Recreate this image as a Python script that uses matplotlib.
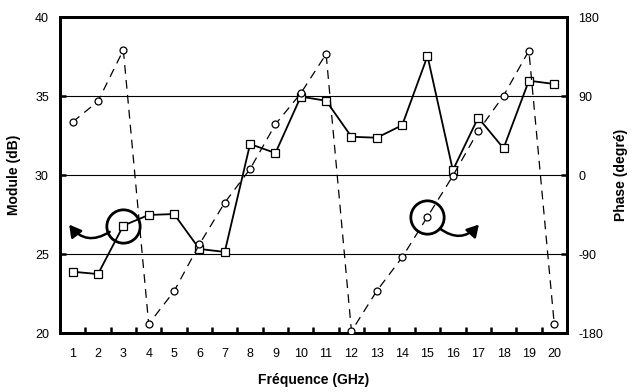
import matplotlib.pyplot as plt
from matplotlib.patches import FancyArrowPatch

plt.rcParams['font.family'] = ['Liberation Sans', 'DejaVu Sans']
plt.rcParams['axes.unicode_minus'] = False

freq = list(range(1, 21))
module_db = [23.88, 23.73, 26.8, 27.47, 27.53, 25.32, 25.13, 31.96, 31.39, 34.96,
             34.7, 32.42, 32.36, 33.15, 37.53, 30.3, 33.63, 31.69, 35.97, 35.76]
phase_deg = [60.4, 84.0, 142.4, -169.7, -132.5, -79.0, -31.5, 6.8, 57.8, 93.0,
             137.8, -178.0, -132.0, -93.8, -47.5, -1.0, 50.0, 90.3, 141.6, -169.7]

fig = plt.figure(figsize=(6.32, 3.92), dpi=100)
ax = fig.add_axes([0.0949, 0.1505, 0.8021, 0.8061])
ax2 = ax.twinx()

for y in (25, 30, 35):
    ax.axhline(y, color='black', lw=0.8, zorder=0)

ax.plot(freq, module_db, color='black', lw=1.3, marker='s', ms=6,
        mfc='white', mec='black', mew=0.9, zorder=3)
ax2.plot(freq, phase_deg, color='black', lw=0.9, ls=(0, (7, 5)), marker='o', ms=5,
         mfc='white', mec='black', mew=0.9, zorder=3)

ax.set_xlim(0.5, 20.5)
ax.set_ylim(20, 40)
ax2.set_ylim(-180, 180)
ax.set_yticks([20, 25, 30, 35, 40])
ax2.set_yticks([-180, -90, 0, 90, 180])

ax.set_xticks(freq)
ax.set_xticks([f + 0.5 for f in freq[:-1]], minor=True)
ax.tick_params(axis='x', which='major', length=0, pad=11, labelsize=9)
ax.tick_params(axis='x', which='minor', direction='in', length=4, width=1.8)
ax.tick_params(axis='y', direction='in', length=4, width=1.8, labelsize=9, pad=8)
ax2.tick_params(axis='y', direction='in', length=4, width=1.8, labelsize=9, pad=8)

for a in (ax, ax2):
    for s in a.spines.values():
        s.set_linewidth(2)

ax.set_xlabel('Fréquence (GHz)', fontsize=10, fontweight='bold', labelpad=9)
ax.set_ylabel('Module (dB)', fontsize=10, fontweight='bold', labelpad=10)
ax2.set_ylabel('Phase (degré)', fontsize=10, fontweight='bold', labelpad=8)

# circled points with curved arrows pointing to their axis
ax.plot(3, 26.8, marker='o', ms=24, mfc='none', mec='black', mew=2, zorder=4)
ax.add_patch(FancyArrowPatch((2.55, 26.5), (0.8, 27.0), connectionstyle='arc3,rad=-0.5',
                             arrowstyle='-|>,head_length=7,head_width=4', lw=1.8,
                             color='black', zorder=4))
ax2.plot(15, -47.5, marker='o', ms=24, mfc='none', mec='black', mew=2, zorder=4)
ax2.add_patch(FancyArrowPatch((15.4, -59), (17.1, -54), connectionstyle='arc3,rad=0.5',
                              arrowstyle='-|>,head_length=7,head_width=4', lw=1.8,
                              color='black', zorder=4))

fig.savefig('out.png', dpi=100)
